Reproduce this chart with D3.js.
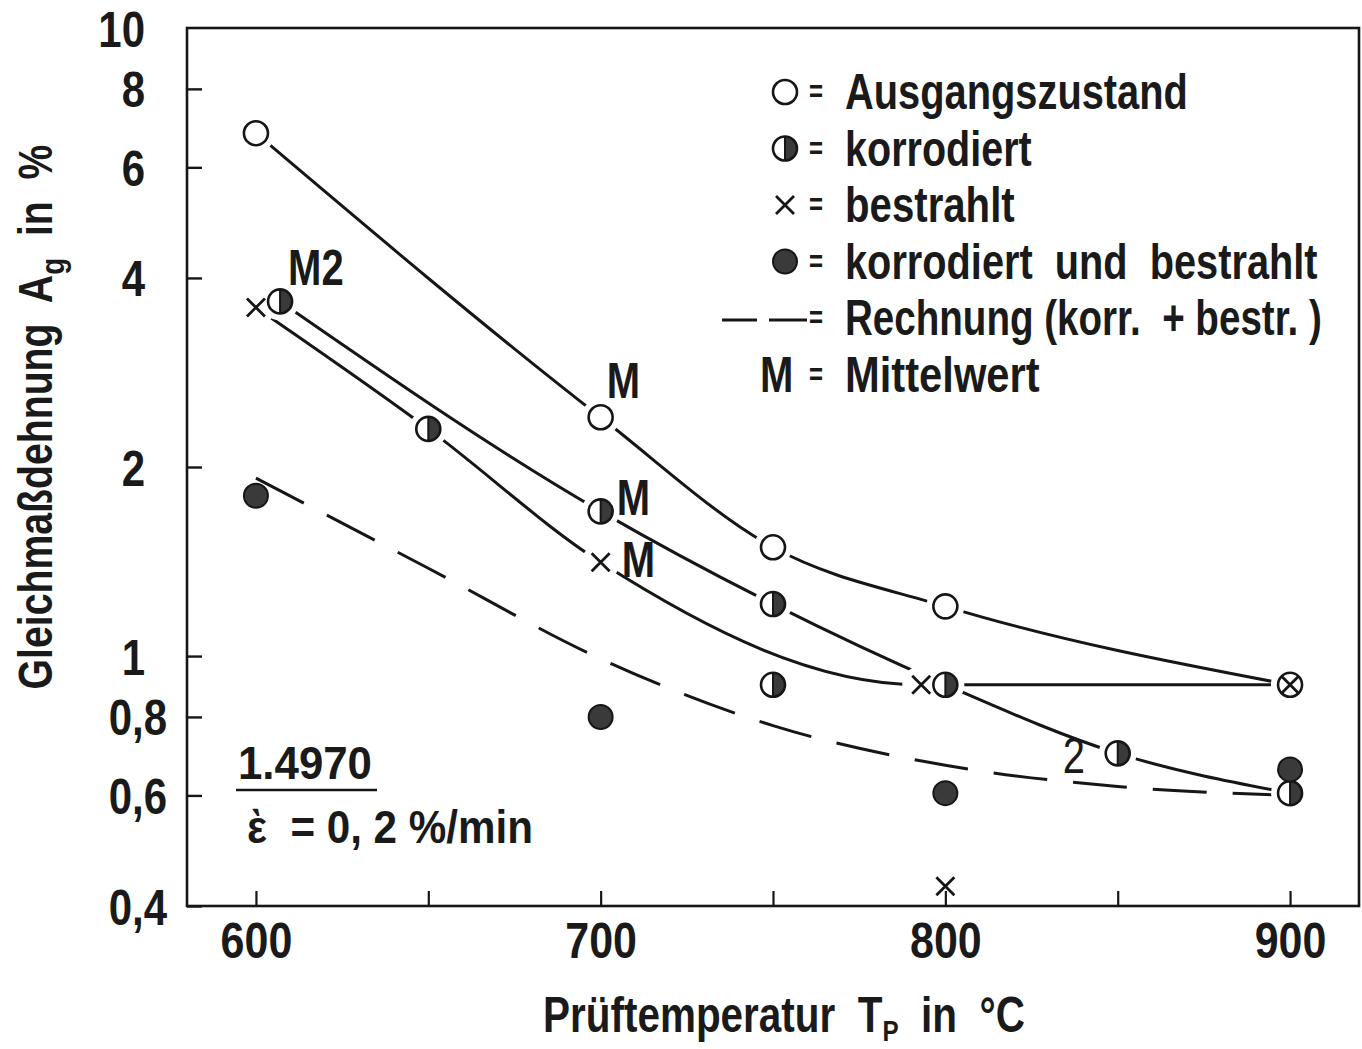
<!DOCTYPE html>
<html><head><meta charset="utf-8">
<script src="https://cdn.jsdelivr.net/npm/d3@7"></script>
<style>
body{margin:0;background:#fff;}
svg text{font-family:"Liberation Sans",Arial,sans-serif;font-weight:bold;fill:#1a1a1a;}
</style></head><body>
<svg id="chart" width="1362" height="1049"></svg>
<script>
// Uniform elongation A_g (%) versus test temperature T_P (°C), steel 1.4970

// measured points per specimen state
const ausgangT = [600, 700, 750, 800, 900];
const ausgangA = [6.8, 2.4, 1.49, 1.2, 0.9];
const korrT = [607, 650, 700, 750, 750, 800, 850, 900];
const korrA = [3.67, 2.30, 1.70, 1.21, 0.90, 0.90, 0.70, 0.605];
const bestrT = [600, 700, 793, 800, 900];
const bestrA = [3.59, 1.41, 0.90, 0.43, 0.90];
const kbT = [600, 700, 800, 900];
const kbA = [1.80, 0.80, 0.605, 0.66];

// drawn trend curves
const curveAusgangT = [600, 700, 750, 800, 900];
const curveAusgangA = [6.8, 2.4, 1.49, 1.2, 0.9];
const curveKorrT = [607, 700, 750, 800, 850, 900];
const curveKorrA = [3.67, 1.70, 1.21, 0.90, 0.70, 0.605];
const curveBestrT = [600, 650, 700, 793, 900];
const curveBestrA = [3.59, 2.30, 1.41, 0.90, 0.90];
const rechnungT = [600, 650, 700, 750, 800, 850, 900];
const rechnungA = [1.92, 1.38, 0.99, 0.775, 0.67, 0.62, 0.60];

// axes
const xTicks = [600, 650, 700, 750, 800, 850, 900];
const xTickLabels = {600: "600", 700: "700", 800: "800", 900: "900"};
const yTicks = [10, 8, 6, 4, 2, 1, 0.8, 0.6, 0.4];
const yTickLabels = ["10", "8", "6", "4", "2", "1", "0,8", "0,6", "0,4"];

// legend entries
const legendKeys = ["open", "half", "cross", "filled", "dash", "M"];
const legendTexts = ["Ausgangszustand", "korrodiert", "bestrahlt",
  "korrodiert  und  bestrahlt", "Rechnung (korr.  + bestr. )", "Mittelwert"];
const legendWidths = [343, 187, 170, 473, 477, 195];

const svg = d3.select("#chart");
const x = d3.scaleLinear().domain([580, 920]).range([187, 1359]);
const y = d3.scaleLog().domain([0.4, 10]).range([906, 28]);
const ink = "#161616", shade = "#3a3a3a";

// condensed lettering: compress each text horizontally about its anchor
function squeeze(sel, f) {
  sel.each(function () {
    const t = d3.select(this);
    const tx = +t.attr("x") || 0, ty = +t.attr("y") || 0;
    const k = typeof f === "function" ? f.call(this) : f;
    const pre = t.attr("data-pre") || "";
    t.attr("x", 0).attr("y", 0)
      .attr("transform", `translate(${tx},${ty}) ${pre} scale(${k},1)`);
  });
}
function fitTo(width) {
  return function () { return width / this.getBBox().width; };
}

const zip = (T, A) => T.map((t, i) => [t, A[i]]);
const line = d3.line().x(d => x(d[0])).y(d => y(d[1])).curve(d3.curveMonotoneX);

// curves
const gLines = svg.append("g").attr("fill", "none").attr("stroke", ink)
  .attr("stroke-width", 3).attr("stroke-linecap", "round");
[[curveAusgangT, curveAusgangA], [curveKorrT, curveKorrA], [curveBestrT, curveBestrA]]
  .forEach(([T, A]) => gLines.append("path").attr("d", line(zip(T, A))));
gLines.append("path").attr("d", line(zip(rechnungT, rechnungA)))
  .attr("stroke-dasharray", "54 26").attr("stroke-linecap", "butt");

// white gaps around markers that sit on the curves
const halos = [].concat(zip(ausgangT, ausgangA), zip(korrT, korrA), zip(bestrT, bestrA));
svg.append("g").selectAll("circle").data(halos).join("circle")
  .attr("cx", d => x(d[0])).attr("cy", d => y(d[1])).attr("r", 19).attr("fill", "#fff");

// frame and axes
svg.append("rect").attr("x", 187).attr("y", 28).attr("width", 1359 - 187).attr("height", 906 - 28)
  .attr("fill", "none").attr("stroke", ink).attr("stroke-width", 2.6);

const yAxis = svg.append("g").attr("transform", "translate(187,0)")
  .call(d3.axisLeft(y).tickValues(yTicks).tickSizeInner(-15).tickSizeOuter(0)
    .tickFormat((d, i) => yTickLabels[i]));
yAxis.select(".domain").remove();
yAxis.selectAll(".tick line").attr("stroke", ink).attr("stroke-width", 2.4);
yAxis.selectAll(".tick text").attr("font-size", 50).attr("fill", ink)
  .attr("x", d => d < 1 ? -20 : -42).attr("dy", "0.36em");
yAxis.selectAll(".tick").filter(d => d === 10).select("line").remove();
squeeze(yAxis.selectAll(".tick text"), 0.84);

const xAxis = svg.append("g").attr("transform", "translate(0,906)")
  .call(d3.axisBottom(x).tickValues(xTicks).tickSizeInner(-15).tickSizeOuter(0)
    .tickPadding(16).tickFormat(d => xTickLabels[d] || ""));
xAxis.select(".domain").remove();
xAxis.selectAll(".tick line").attr("stroke", ink).attr("stroke-width", 2.2);
xAxis.selectAll(".tick text").attr("font-size", 50).attr("fill", ink);
squeeze(xAxis.selectAll(".tick text"), 0.86);

// marker shapes
function drawMarker(g, kind) {
  const r = 12;
  if (kind === "open") {
    g.append("circle").attr("r", r).attr("fill", "#fff").attr("stroke", ink).attr("stroke-width", 2.6);
  } else if (kind === "half") {
    g.append("circle").attr("r", r).attr("fill", "#fff");
    g.append("path").attr("d", `M0,${-r}A${r},${r} 0 0 1 0,${r}Z`).attr("fill", shade);
    g.append("circle").attr("r", r).attr("fill", "none").attr("stroke", ink).attr("stroke-width", 2.6);
    g.append("line").attr("y1", -r).attr("y2", r).attr("stroke", ink).attr("stroke-width", 2);
  } else if (kind === "cross") {
    const s = 9;
    g.append("path").attr("d", `M${-s},${-s}L${s},${s}M${-s},${s}L${s},${-s}`)
      .attr("stroke", ink).attr("stroke-width", 2.8).attr("fill", "none");
  } else if (kind === "filled") {
    g.append("circle").attr("r", r).attr("fill", shade).attr("stroke", ink).attr("stroke-width", 2);
  }
}
function plot(T, A, kind) {
  zip(T, A).forEach(d => {
    const g = svg.append("g").attr("transform", `translate(${x(d[0])},${y(d[1])})`);
    drawMarker(g, kind);
  });
}
plot(ausgangT, ausgangA, "open");
plot(korrT, korrA, "half");
plot(kbT, kbA, "filled");
plot(bestrT, bestrA, "cross");

// point annotations (M = mean value, 2 = two specimens)
const notes = [
  {t: korrT[0], a: korrA[0], text: "M2", dx: 8, dy: -16},
  {t: ausgangT[1], a: ausgangA[1], text: "M", dx: 6, dy: -19},
  {t: korrT[2], a: korrA[2], text: "M", dx: 16, dy: 4},
  {t: bestrT[1], a: bestrA[1], text: "M", dx: 21, dy: 15},
  {t: korrT[6], a: korrA[6], text: "2", dx: -55, dy: 20, weight: "normal"}
];
const noteText = svg.append("g").selectAll("text").data(notes).join("text")
  .attr("x", d => x(d.t) + d.dx).attr("y", d => y(d.a) + d.dy)
  .attr("font-size", 50).style("font-weight", d => d.weight || "bold").text(d => d.text);
squeeze(noteText, 0.8);

// legend
const lg = svg.append("g");
legendKeys.forEach((k, i) => {
  const cy = 92 + i * 56.5;
  const g = lg.append("g").attr("transform", `translate(785,${cy})`);
  if (k === "dash") {
    g.append("path").attr("d", "M-63,2H-28M-16,2H22").attr("stroke", ink).attr("stroke-width", 3);
  } else if (k === "M") {
    const m = g.append("text").attr("x", -25).attr("y", 17).attr("font-size", 50).text("M");
    squeeze(m, 0.8);
  } else {
    drawMarker(g, k);
  }
  const eq = lg.append("text").attr("x", 816).attr("y", cy + 10).attr("font-size", 32)
    .attr("text-anchor", "middle").text("=");
  squeeze(eq, 0.75);
  const t = lg.append("text").attr("x", 845).attr("y", cy + 17).attr("font-size", 50)
    .style("white-space", "pre").text(legendTexts[i]);
  squeeze(t, fitTo(legendWidths[i]));
});

// material and strain rate note
const mat = svg.append("text").attr("x", 238).attr("y", 779).attr("font-size", 46).text("1.4970");
squeeze(mat, fitTo(134));
svg.append("line").attr("x1", 236).attr("x2", 377).attr("y1", 790).attr("y2", 790)
  .attr("stroke", ink).attr("stroke-width", 2.6);
const rate = svg.append("text").attr("x", 247).attr("y", 843).attr("font-size", 46)
  .style("white-space", "pre").text("ὲ  = 0, 2 %/min");
squeeze(rate, fitTo(286));

// axis titles
const yt = svg.append("text").attr("x", 52).attr("y", 417).attr("data-pre", "rotate(-90)")
  .attr("text-anchor", "middle").attr("font-size", 48);
yt.append("tspan").style("white-space", "pre").text("Gleichmaßdehnung  A");
yt.append("tspan").attr("font-size", 34).attr("dy", 12).text("g");
yt.append("tspan").attr("dy", -12).style("white-space", "pre").text("  in  %");
squeeze(yt, fitTo(545));

const xt = svg.append("text").attr("x", 784).attr("y", 1032)
  .attr("text-anchor", "middle").attr("font-size", 50);
xt.append("tspan").style("white-space", "pre").text("Prüftemperatur  T");
xt.append("tspan").attr("font-size", 30).attr("dy", 9).text("P");
xt.append("tspan").attr("dy", -9).style("white-space", "pre").text("  in  °C");
squeeze(xt, fitTo(482));
</script>
</body></html>
